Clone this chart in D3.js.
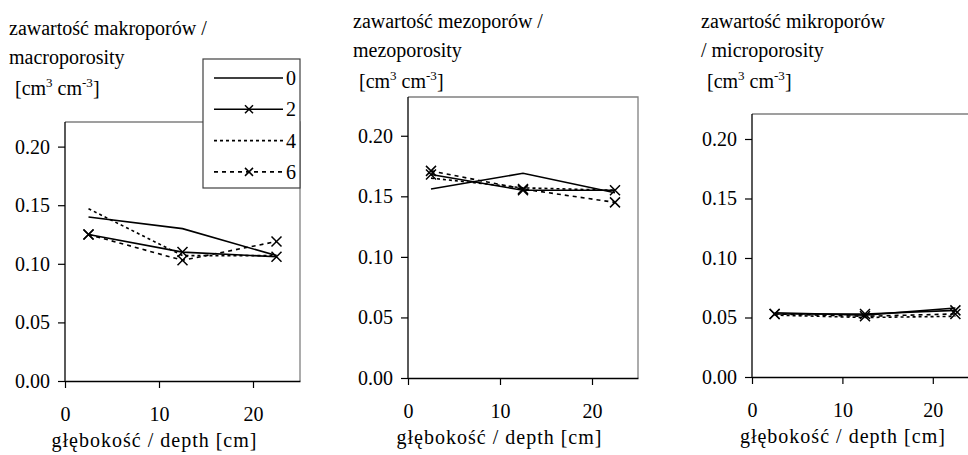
<!DOCTYPE html>
<html>
<head>
<meta charset="utf-8">
<script src="https://cdn.jsdelivr.net/npm/d3@7"></script>
<style>
  body { margin: 0; background: #fff; }
  svg text { font-family: "Liberation Serif", "Times New Roman", Times, "DejaVu Serif", serif; fill: #000; }
</style>
</head>
<body>
<svg id="chart"></svg>
<script>
// Data
const depths = [2.5, 12.5, 22.5];
const seriesNames = ["0", "2", "4", "6"];
const xTicks = [0, 10, 20];
const yTicks = [0, 0.05, 0.10, 0.15, 0.20];

// one row per series (0, 2, 4, 6), one value per depth
const macroValues = [
    [0.140, 0.130, 0.107],
    [0.125, 0.110, 0.106],
    [0.147, 0.107, 0.107],
    [0.125, 0.103, 0.119]
];
const mezoValues = [
    [0.156, 0.169, 0.153],
    [0.168, 0.155, 0.155],
    [0.165, 0.157, 0.155],
    [0.171, 0.156, 0.145]
];
const microValues = [
    [0.054, 0.052, 0.058],
    [0.053, 0.053, 0.056],
    [0.052, 0.050, 0.051],
    [0.053, 0.051, 0.053]
];

const macroTitle = ["zawartość makroporów /", "macroporosity"];
const mezoTitle  = ["zawartość mezoporów /", "mezoporosity"];
const microTitle = ["zawartość mikroporów", "/ microporosity"];
const xTitle = "głębokość / depth [cm]";

// Layout
const W = 968, H = 455;
const fontSize = 20;

const panels = [
    { values: macroValues, title: macroTitle, tx: 9,   tBase: 35, left: 65,  right: 300, top: 122, bottom: 381, yMax: 0.221, xtDx: -5, legend: true },
    { values: mezoValues,  title: mezoTitle,  tx: 353, tBase: 28, left: 408, right: 638, top: 97,  bottom: 378, yMax: 0.232, xtDx: -1, legend: false },
    { values: microValues, title: microTitle, tx: 701, tBase: 28, left: 752, right: 978, top: 114, bottom: 377, yMax: 0.221, xtDx: 0,  legend: false }
];

const styles = [
    { dash: null,  marker: false },
    { dash: null,  marker: true },
    { dash: "3,3", marker: false },
    { dash: "4,4", marker: true }
];

const svg = d3.select("#chart").attr("width", W).attr("height", H);

function unitLabel(g, x, y) {
    const t = g.append("text").attr("x", x).attr("y", y).attr("font-size", fontSize);
    t.append("tspan").text("[cm");
    t.append("tspan").attr("dy", -8).attr("font-size", 13).text("3");
    t.append("tspan").attr("dy", 8).text(" cm");
    t.append("tspan").attr("dy", -8).attr("font-size", 13).text("-3");
    t.append("tspan").attr("dy", 8).text("]");
}

function xMark(g, cx, cy, r) {
    g.append("path")
        .attr("d", `M${cx - r},${cy - r}L${cx + r},${cy + r}M${cx - r},${cy + r}L${cx + r},${cy - r}`)
        .attr("stroke", "#000")
        .attr("stroke-width", 1.5)
        .attr("fill", "none");
}

panels.forEach(p => {
    const g = svg.append("g");

    const x = d3.scaleLinear().domain([0, 25]).range([p.left, p.right]);
    const y = d3.scaleLinear().domain([0, p.yMax]).range([p.bottom, p.top]);

    // titles
    p.title.forEach((line, i) => {
        g.append("text")
            .attr("x", p.tx)
            .attr("y", p.tBase + i * 29)
            .attr("font-size", fontSize)
            .text(line);
    });
    unitLabel(g, p.tx + 6, p.tBase + 60);

    // plot area border (top/right grey)
    g.append("path")
        .attr("d", `M${p.left},${p.top}H${p.right}V${p.bottom}`)
        .attr("fill", "none")
        .attr("stroke", "#808080")
        .attr("stroke-width", 1.3);

    // axes
    const yAxis = g.append("g")
        .attr("transform", `translate(${p.left},0)`)
        .call(d3.axisLeft(y).tickValues(yTicks).tickFormat(d3.format(".2f")).tickSize(7).tickPadding(8));
    yAxis.select(".domain").attr("d", `M0,${p.top}V${p.bottom}`).attr("stroke-width", 1.3);

    const xAxis = g.append("g")
        .attr("transform", `translate(0,${p.bottom})`)
        .call(d3.axisBottom(x).tickValues(xTicks).tickSize(7).tickPadding(19).tickSizeOuter(0));
    xAxis.select(".domain").attr("stroke-width", 1.3);

    [yAxis, xAxis].forEach(a => {
        a.attr("font-family", null);
        a.selectAll("text")
            .attr("font-size", fontSize)
            .attr("fill", "#000");
        a.selectAll(".tick line").attr("stroke-width", 1.2);
    });
    xAxis.selectAll("text").attr("dy", "0.71em");

    g.append("text")
        .attr("x", x(10) + p.xtDx)
        .attr("y", p.bottom + 66)
        .attr("text-anchor", "middle")
        .attr("font-size", fontSize)
        .attr("textLength", 205)
        .attr("lengthAdjust", "spacing")
        .text(xTitle);

    // series
    const line = d3.line().x((d, i) => x(depths[i])).y(d => y(d));
    p.values.forEach((vals, s) => {
        g.append("path")
            .attr("d", line(vals))
            .attr("fill", "none")
            .attr("stroke", "#000")
            .attr("stroke-width", 1.6)
            .attr("stroke-dasharray", styles[s].dash);
        if (styles[s].marker) {
            vals.forEach((v, i) => xMark(g, x(depths[i]), y(v), 5));
        }
    });

    // legend
    if (p.legend) {
        const lg = g.append("g");
        lg.append("rect")
            .attr("x", 203).attr("y", 59)
            .attr("width", 97).attr("height", 129)
            .attr("fill", "#fff")
            .attr("stroke", "#404040")
            .attr("stroke-width", 1.2);
        seriesNames.forEach((name, s) => {
            const ly = 78 + s * 31.3;
            lg.append("line")
                .attr("x1", 214).attr("x2", 283)
                .attr("y1", ly).attr("y2", ly)
                .attr("stroke", "#000")
                .attr("stroke-width", 1.6)
                .attr("stroke-dasharray", styles[s].dash);
            if (styles[s].marker) xMark(lg, 249, ly, 4);
            lg.append("text")
                .attr("x", 286).attr("y", ly + 7)
                .attr("font-size", fontSize)
                .text(name);
        });
    }
});
</script>
</body>
</html>
